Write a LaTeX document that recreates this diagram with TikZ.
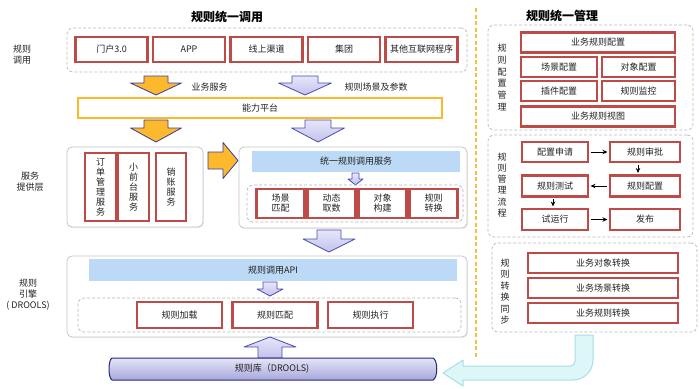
\documentclass[tikz,border=0pt]{standalone}
\usepackage{fontspec}
\setmainfont{Noto Sans CJK SC}
\usetikzlibrary{arrows.meta,shadows}

\definecolor{boxred}{HTML}{BE4B48}
\definecolor{textdark}{HTML}{222222}
\definecolor{dashgray}{HTML}{B8B8B8}
\definecolor{framegray}{HTML}{C6C6C6}
\definecolor{barblue}{HTML}{BCDAF6}
\definecolor{platorange}{HTML}{FBB829}
\definecolor{goldfill}{HTML}{FDB92E}
\definecolor{arrowrim}{HTML}{3B3B98}
\definecolor{lavtop}{HTML}{E6E6FA}
\definecolor{lavbottom}{HTML}{C2C2EC}
\definecolor{lavrim}{HTML}{4A4AB0}
\definecolor{cyanfill}{HTML}{DDF6F8}
\definecolor{cyanrim}{HTML}{A6E0E6}
\definecolor{sepyellow}{HTML}{F6C142}
\definecolor{dbtop}{HTML}{E4E4F7}
\definecolor{dbbottom}{HTML}{A8A8DC}
\definecolor{dbrim}{HTML}{28287A}

\tikzset{
  sz/.style 2 args={minimum width=#1pt, minimum height=#2pt},
  redbox/.style={draw=boxred, line width=2.1pt, fill=white, inner sep=0pt,
    align=center, text=textdark, font=\fontsize{9}{10}\selectfont},
  dashbox/.style={draw=dashgray, dash pattern=on 3pt off 2pt, rounded corners=6pt,
    line width=0.7pt, inner sep=0pt},
  graybox/.style={draw=framegray, rounded corners=5pt, line width=0.8pt, fill=white,
    inner sep=0pt, drop shadow={opacity=0.15, shadow xshift=0.8pt, shadow yshift=-1.2pt}},
  bluebar/.style={fill=barblue, inner sep=0pt, text=textdark, font=\fontsize{9}{10}\selectfont},
  platbar/.style={draw=platorange, line width=2.2pt, fill=white, inner sep=0pt,
    text=textdark, font=\fontsize{9}{10}\selectfont},
  sidelabel/.style={align=center, text=textdark, font=\fontsize{9}{11}\selectfont},
  vlabel/.style={align=center, text=textdark, font=\fontsize{9}{11.8}\selectfont},
  note/.style={text=textdark, font=\fontsize{9}{10}\selectfont},
  title/.style={text=black, font=\fontsize{12}{14}\selectfont\bfseries},
  goldarrow/.style={fill=goldfill, draw=arrowrim, line width=0.8pt, line join=round},
  lavarrow/.style={top color=lavtop, bottom color=lavbottom, draw=lavrim, line width=0.8pt,
    line join=round},
  flowarrow/.style={-{Stealth[length=5pt,width=4.5pt]}, line width=0.9pt,
    shorten >=1.5pt, shorten <=1.5pt},
  sepline/.style={draw=sepyellow, line width=1.3pt, dash pattern=on 4pt off 2.5pt},
  syncarrow/.style={fill=cyanfill, draw=cyanrim, line width=1pt, line join=round},
  dbshape/.style={top color=dbtop, bottom color=dbbottom, draw=dbrim, line width=1pt}
}

% block arrows: style, centre, base, neck, tip, shaft half width, head half width
\newcommand{\blockdown}[7]{%
  \draw[#1] (#2-#6,#3) -- (#2+#6,#3) -- (#2+#6,#4) -- (#2+#7,#4) -- (#2,#5)
    -- (#2-#7,#4) -- (#2-#6,#4) -- cycle;}
\newcommand{\blockright}[7]{%
  \draw[#1] (#3,#2-#6) -- (#3,#2+#6) -- (#4,#2+#6) -- (#4,#2+#7) -- (#5,#2)
    -- (#4,#2-#7) -- (#4,#2-#6) -- cycle;}

\begin{document}
\begin{tikzpicture}[x=1pt, y=-1pt]
  \useasboundingbox (0,0) rectangle (700,388);

  % titles and separator
  \node[title] (calltitle) at (227,17) {规则统一调用};
  \node[title] (mgmttitle) at (562,16) {规则统一管理};
  \draw[sepline] (476,8) -- (476,358);

  % rule invocation
  \node[sidelabel] (lblcall) at (22,55) {规则\\调用};
  \node[dashbox, sz={400}{44}] (callframe) at (267,50) {};
  \foreach \t [count=\i from 0] in {门户3.0, APP, 线上渠道, 集团, 其他互联网程序}
    \node[redbox, sz={72}{25}] (ch\i) at (111.5+77.5*\i, 49.5) {\t};

  \blockdown{goldarrow}{156}{76}{83}{95}{12}{25.5}
  \node[note, anchor=west] (lblbiz) at (188,87) {业务服务};
  \blockdown{lavarrow}{305}{76}{83}{95}{13}{26.5}
  \node[note, anchor=west] (lblparam) at (341,87) {规则场景及参数};
  \node[platbar, sz={364}{20}] (platform) at (260,108) {能力平台};

  \blockdown{goldarrow}{156}{120}{128}{142}{12}{25.5}
  \blockdown{lavarrow}{318}{120}{128}{142}{13}{26.5}

  % service layer
  \node[sidelabel] (lblsvc) at (30,182) {服务\\提供层};
  \node[graybox, sz={136}{80}] (svcleft) at (135,187) {};
  \node[redbox, sz={31}{68}] (order) at (100.5,187) {订\\单\\管\\理\\服\\务};
  \node[redbox, sz={31}{68}] (front) at (133.5,187) {小\\前\\台\\服\\务};
  \node[redbox, sz={30}{68}] (writeoff) at (171,187) {销\\账\\服\\务};

  \blockright{goldarrow}{160.5}{208}{223}{238}{8.5}{18}
  \node[graybox, sz={228}{81}] (svcright) at (353,187.5) {};
  \node[bluebar, sz={208}{21}] (unified) at (356,161.5) {统一规则调用服务};
  \blockdown{lavarrow}{355.5}{173}{179}{185}{3.5}{7.5}
  \node[dashbox, sz={216}{37}] (svcinner) at (355,203.5) {};
  \foreach \t [count=\i from 0] in {场景\\匹配, 动态\\取数, 对象\\构建, 规则\\转换}
    \node[redbox, sz={48}{29}] (step\i) at (280.5+51*\i, 203.5) {\t};

  \blockdown{lavarrow}{329}{230}{239}{252}{12}{26}

  % rule engine
  \node[sidelabel] (lblengine) at (28,295) {规则\\引擎\\( DROOLS)};
  \node[graybox, sz={400}{81}] (engine) at (267,296.5) {};
  \node[bluebar, sz={368}{22}] (api) at (273,270) {规则调用API};
  \blockdown{lavarrow}{270}{282}{289}{296}{7}{13}
  \node[dashbox, sz={383}{34}] (engineinner) at (269.5,315) {};
  \foreach \t [count=\i from 0] in {规则加载, 规则匹配, 规则执行}
    \node[redbox, sz={85}{26}] (run\i) at (179.5+95.5*\i, 315) {\t};

  % rule repository
  \blockdown{lavarrow}{270}{358}{347}{337}{12}{26}
  \draw[dbshape] (112,358) -- (433,358) .. controls (438,360) and (438,378) .. (433,380)
    -- (112,380) .. controls (108,378) and (108,360) .. (112,358) -- cycle;
  \node[note] (repo) at (272,369) {规则库（DROOLS)};

  % sync back to repository
  \draw[syncarrow] (575,335) -- (593,335) -- (593,360)
    .. controls (593,371) and (584,380) .. (573,380) -- (463,380) -- (463,386)
    -- (443,373) -- (463,360) -- (463,366) -- (570,366)
    .. controls (573,366) and (575,364) .. (575,361) -- cycle;

  % configuration management
  \node[dashbox, sz={205}{105}] (cfgframe) at (590.5,77.5) {};
  \node[vlabel] (lblcfg) at (502,77.5) {规\\则\\配\\置\\管\\理};
  \node[redbox, sz={154}{20}] (bizcfg) at (598,42.5) {业务规则配置};
  \node[redbox, sz={76}{20}] (scenecfg) at (559,67) {场景配置};
  \node[redbox, sz={73}{20}] (objcfg) at (638.5,67) {对象配置};
  \node[redbox, sz={76}{20}] (plugcfg) at (559,91) {插件配置};
  \node[redbox, sz={73}{20}] (monitor) at (638.5,91) {规则监控};
  \node[redbox, sz={154}{20}] (bizview) at (598,116.5) {业务规则视图};

  % management flow
  \node[dashbox, sz={205}{102}] (flowframe) at (590.5,186) {};
  \node[vlabel, font=\fontsize{9}{11.2}\selectfont] (lblflow) at (502,185) {规\\则\\管\\理\\流\\程};
  \node[redbox, sz={66}{20}] (apply) at (555,152) {配置申请};
  \node[redbox, sz={70}{20}] (approve) at (645,152) {规则审批};
  \node[redbox, sz={66}{21}] (test) at (555,186) {规则测试};
  \node[redbox, sz={70}{21}] (config) at (645,186) {规则配置};
  \node[redbox, sz={66}{21}] (trial) at (555,219.5) {试运行};
  \node[redbox, sz={70}{21}] (publish) at (645,219.5) {发布};
  \draw[flowarrow] (apply) -- (approve);
  \draw[flowarrow] ([xshift=-7pt]approve.south) -- ([xshift=-7pt]config.north);
  \draw[flowarrow] (config) -- (test);
  \draw[flowarrow] ([xshift=-2pt]test.south) -- ([xshift=-2pt]trial.north);
  \draw[flowarrow] (trial) -- (publish);

  % conversion sync
  \node[dashbox, sz={205}{89}] (syncframe) at (594.5,287.5) {};
  \node[vlabel, font=\fontsize{9}{11.4}\selectfont] (lblsync) at (505,291.5) {规\\则\\转\\换\\同\\步};
  \foreach \t [count=\i from 0] in {业务对象转换, 业务场景转换, 业务规则转换}
    \node[redbox, sz={150}{20}] (conv\i) at (603, 263+25*\i) {\t};
\end{tikzpicture}
\end{document}
